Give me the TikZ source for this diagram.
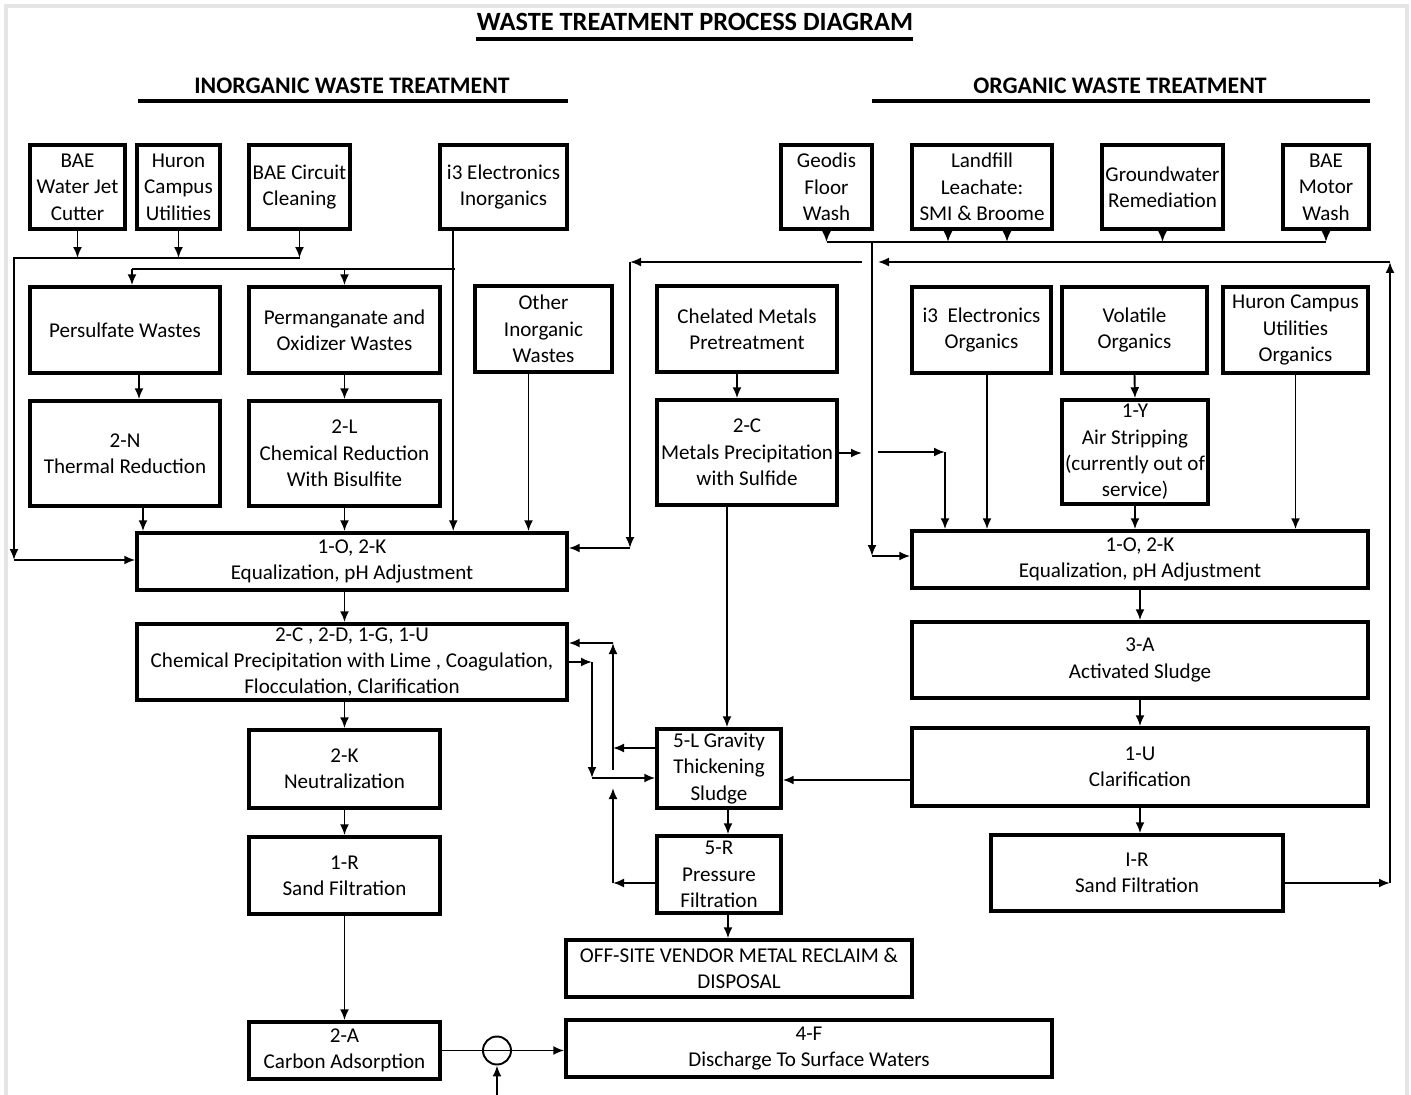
\documentclass[tikz,border=0pt]{standalone}
\usepackage{fontspec}
\setmainfont{Carlito}
\usetikzlibrary{arrows.meta}
\tikzset{
  box/.style={draw, line width=2pt, align=center, inner sep=1pt, font=\fontsize{12}{15}\selectfont},
  arr/.style={-{Latex[length=2.2mm,width=1.8mm]}, line width=1.1pt},
  flow/.style={line width=1.1pt},
  head/.style={font=\bfseries\fontsize{13.5}{16}\selectfont},
  rule/.style={line width=1.8pt},
}
\begin{document}
\begin{tikzpicture}[x=0.02cm,y=-0.02cm]
\useasboundingbox (0,0) rectangle (1411,1095);
\draw[gray!20, line width=2pt] (6,1095) -- (6,6) -- (1407,6) -- (1407,1095);
% headings
\node[head, font=\bfseries\fontsize{15}{17}\selectfont] (title) at (695,22) {WASTE TREATMENT PROCESS DIAGRAM};
\draw[rule] (476,39) -- (913,39);
\node[head] (inorg) at (352,86) {INORGANIC WASTE TREATMENT};
\draw[rule] (138,101) -- (568,101);
\node[head] (org) at (1120,86) {ORGANIC WASTE TREATMENT};
\draw[rule] (872,101) -- (1370,101);
% inorganic sources
\node[box, minimum width=1.9cm, minimum height=1.68cm] (wjet) at (77.5,187) {BAE\\Water Jet\\Cutter};
\node[box, minimum width=1.66cm, minimum height=1.68cm] (huron) at (178.5,187) {Huron\\Campus\\Utilities};
\node[box, minimum width=2.02cm, minimum height=1.68cm] (circuit) at (299.5,187) {BAE Circuit\\Cleaning};
\node[box, minimum width=2.54cm, minimum height=1.68cm] (i3inorg) at (503.5,187) {i3 Electronics\\Inorganics};
% organic sources
\node[box, minimum width=1.82cm, minimum height=1.68cm] (geodis) at (826.5,187) {Geodis\\Floor\\Wash};
\node[box, minimum width=2.8cm, minimum height=1.68cm] (landfill) at (982,187) {Landfill\\Leachate:\\SMI \& Broome};
\node[box, minimum width=2.42cm, minimum height=1.68cm] (ground) at (1162.5,187) {Groundwater\\Remediation};
\node[box, minimum width=1.72cm, minimum height=1.68cm] (motor) at (1326,187) {BAE\\Motor\\Wash};
% second row
\node[box, minimum width=3.8cm, minimum height=1.72cm] (persulf) at (125,330) {Persulfate Wastes};
\node[box, minimum width=3.82cm, minimum height=1.72cm] (perman) at (344.5,330) {Permanganate and\\Oxidizer Wastes};
\node[box, minimum width=2.74cm, minimum height=1.72cm] (other) at (543.5,329) {Other\\Inorganic\\Wastes};
\node[box, minimum width=3.6cm, minimum height=1.72cm] (chelated) at (747,329) {Chelated Metals\\Pretreatment};
\node[box, minimum width=2.78cm, minimum height=1.72cm] (i3org) at (981.5,330) {i3\ \ Electronics\\Organics};
\node[box, minimum width=2.9cm, minimum height=1.72cm] (volatile) at (1134.5,330) {Volatile\\Organics};
\node[box, minimum width=2.9cm, minimum height=1.72cm] (huronorg) at (1295.5,330) {Huron Campus\\Utilities\\Organics};
% pretreatment
\node[box, minimum width=3.8cm, minimum height=2.1cm] (thermal) at (125,453.5) {2-N\\Thermal Reduction};
\node[box, minimum width=3.82cm, minimum height=2.1cm] (cred) at (344.5,453.5) {2-L\\Chemical Reduction\\With Bisulfite};
\node[box, minimum width=3.6cm, minimum height=2.1cm] (sulf) at (747,452.5) {2-C\\Metals Precipitation\\with Sulfide};
\node[box, minimum width=2.92cm, minimum height=2.08cm] (air) at (1135,452) {1-Y\\Air Stripping\\(currently out of\\service)};
% equalization
\node[box, minimum width=8.6cm, minimum height=1.14cm] (eqL) at (352,561.5) {1-O, 2-K\\Equalization, pH Adjustment};
\node[box, minimum width=9.12cm, minimum height=1.14cm] (eqR) at (1140,559.5) {1-O, 2-K\\Equalization, pH Adjustment};
% main treatment
\node[box, minimum width=8.6cm, minimum height=1.52cm] (chemprec) at (352,662) {2-C , 2-D, 1-G, 1-U\\Chemical Precipitation with Lime , Coagulation,\\Flocculation, Clarification};
\node[box, minimum width=9.12cm, minimum height=1.52cm] (sludge) at (1140,660) {3-A\\Activated Sludge};
\node[box, minimum width=3.82cm, minimum height=1.56cm] (neutral) at (344.5,769) {2-K\\Neutralization};
\node[box, minimum width=2.48cm, minimum height=1.58cm] (gravity) at (719,768.5) {5-L Gravity\\Thickening\\Sludge};
\node[box, minimum width=9.12cm, minimum height=1.56cm] (clarif) at (1140,767) {1-U\\Clarification};
\node[box, minimum width=3.82cm, minimum height=1.54cm] (sandL) at (344.5,875.5) {1-R\\Sand Filtration};
\node[box, minimum width=2.48cm, minimum height=1.54cm] (press) at (719,874.5) {5-R\\Pressure\\Filtration};
\node[box, minimum width=5.84cm, minimum height=1.52cm] (sandR) at (1137,873) {I-R\\Sand Filtration};
\node[box, minimum width=6.92cm, minimum height=1.14cm] (offsite) at (739,968.5) {OFF-SITE VENDOR METAL RECLAIM \&\\DISPOSAL};
\node[box, minimum width=3.82cm, minimum height=1.14cm] (carbon) at (344.5,1050.5) {2-A\\Carbon Adsorption};
\node[box, minimum width=9.72cm, minimum height=1.14cm] (discharge) at (809,1048.5) {4-F\\Discharge To Surface Waters};
\node[circle, draw, flow, minimum size=0.56cm, inner sep=0pt] (valve) at (497,1050.5) {};
% helper points
\coordinate (busL) at (14,258);
\coordinate (cornerL) at (14,560);
\coordinate (splitI) at (455,269);
\coordinate (busO) at (872,242);
\coordinate (cornerR) at (872,556);
\coordinate (feedR) at (862,262);
\coordinate (feedL) at (630,262);
\coordinate (retB) at (1390,883);
\coordinate (retT) at (1390,262);
\coordinate (retL) at (878,262);
\coordinate (hopA) at (862,453);
\coordinate (hopB) at (878,452);
\coordinate (hopC) at (945,452);
\coordinate (upA) at (613,643);
\coordinate (upB) at (613,770);
\coordinate (upC) at (613,788);
\coordinate (dnA) at (592,662);
\coordinate (dnB) at (592,778);
\coordinate (feedV) at (497,1095);
\coordinate (eqLin) at ([yshift=0.27cm]eqL.east);
\coordinate (precIn) at ([yshift=0.38cm]chemprec.east);
\coordinate (thkL) at ([yshift=0.41cm]gravity.west);
\coordinate (thkIn) at ([yshift=-0.19cm]gravity.west);
\coordinate (prsL) at ([yshift=-0.17cm]press.west);
\coordinate (clfL) at ([yshift=-0.26cm]clarif.west);
\coordinate (i3tap) at ([xshift=0.3cm]i3inorg.south west);
% inorganic side
\draw[arr] (wjet.south) -- (wjet.south |- busL);
\draw[arr] (huron.south) -- (huron.south |- busL);
\draw[arr] (circuit.south) -- (circuit.south |- busL);
\draw[arr] (circuit.south |- busL) -- (busL) -- (cornerL);
\draw[arr] (cornerL) -- (cornerL -| eqL.west);
\draw[arr] (i3tap) -- (i3tap |- eqL.north);
\draw[flow] (splitI) -- ([xshift=0.14cm]persulf.north |- splitI);
\draw[arr] ([xshift=0.14cm]persulf.north |- splitI) -- ([xshift=0.14cm]persulf.north);
\draw[arr] (perman.north |- splitI) -- (perman.north);
\draw[arr] ([xshift=0.28cm]persulf.south) -- ([xshift=0.28cm]thermal.north);
\draw[arr] (perman.south) -- (cred.north);
\draw[arr] ([xshift=0.36cm]thermal.south) -- ([xshift=0.36cm]thermal.south |- eqL.north);
\draw[arr] (cred.south) -- (cred.south |- eqL.north);
\draw[arr] ([xshift=-0.3cm]other.south) -- ([xshift=-0.3cm]other.south |- eqL.north);
\draw[arr] (feedR) -- (feedL);
\draw[arr] (feedL) -- (feedL |- eqLin);
\draw[arr] (feedL |- eqLin) -- (eqLin);
\draw[arr] (eqL.south -| neutral.north) -- (chemprec.north -| neutral.north);
\draw[arr] (chemprec.south -| neutral.north) -- (neutral.north);
\draw[arr] (neutral.south) -- (sandL.north);
\draw[arr] (sandL.south) -- (carbon.north);
\draw[flow] (carbon.east) -- (valve.east);
\draw[arr] (valve.east) -- (valve.east -| discharge.west);
\draw[arr] (feedV) -- (valve.south);
% sludge handling
\draw[arr] ([xshift=-0.2cm]chelated.south) -- ([xshift=-0.2cm]sulf.north);
\draw[arr] ([xshift=-0.4cm]sulf.south) -- ([xshift=-0.4cm]sulf.south |- gravity.north);
\draw[arr] (sulf.east |- hopA) -- (hopA);
\draw[arr] (hopB) -- (hopC);
\draw[arr] (hopC) -- (hopC |- eqR.north);
\draw[arr] (thkL) -- (thkL -| upA);
\draw[arr] (upB) -- (upA);
\draw[arr] (upA) -- (precIn);
\draw[arr] (chemprec.east) -- (dnA);
\draw[arr] (dnA) -- (dnB);
\draw[arr] (dnB) -- (thkIn);
\draw[arr] (prsL) -- (prsL -| upC);
\draw[arr] (prsL -| upC) -- (upC);
\draw[arr] (clfL) -- (clfL -| gravity.east);
\draw[arr] ([xshift=0.18cm]gravity.south) -- ([xshift=0.18cm]press.north);
\draw[arr] ([xshift=0.18cm]press.south) -- ([xshift=0.18cm]press.south |- offsite.north);
% organic side
\draw[arr] (geodis.south) -- (geodis.south |- busO);
\draw[arr] ([xshift=-0.68cm]landfill.south) -- ([xshift=-0.68cm]landfill.south |- busO);
\draw[arr] ([xshift=0.5cm]landfill.south) -- ([xshift=0.5cm]landfill.south |- busO);
\draw[arr] (ground.south) -- (ground.south |- busO);
\draw[arr] (motor.south) -- (motor.south |- busO);
\draw[flow] (geodis.south |- busO) -- (motor.south |- busO);
\draw[arr] (busO) -- (cornerR);
\draw[arr] (cornerR) -- (cornerR -| eqR.west);
\draw[arr] ([xshift=0.11cm]i3org.south) -- ([xshift=0.11cm]i3org.south |- eqR.north);
\draw[arr] (volatile.south) -- (air.north);
\draw[arr] (air.south) -- (air.south |- eqR.north);
\draw[arr] (huronorg.south) -- (huronorg.south |- eqR.north);
\draw[arr] (eqR.south) -- (sludge.north);
\draw[arr] (sludge.south) -- (clarif.north);
\draw[arr] (clarif.south) -- (clarif.south |- sandR.north);
\draw[arr] ([yshift=-0.2cm]sandR.east) -- (retB);
\draw[arr] (retB) -- (retT);
\draw[arr] (retT) -- (retL);
\end{tikzpicture}
\end{document}
